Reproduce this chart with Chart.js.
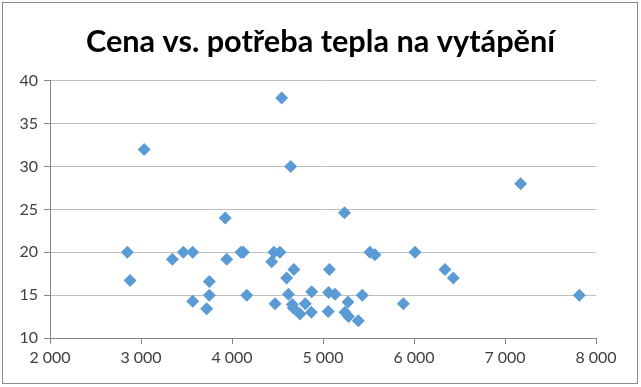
<!DOCTYPE html>
<html lang="cs">
<head>
  <meta charset="UTF-8" />
  <title>Cena vs. potřeba tepla na vytápění</title>
  <script src="https://cdn.jsdelivr.net/npm/chart.js"></script>
  <style>
    html, body { margin: 0; padding: 0; background: #fff; }
    .wrap { width: 641px; height: 387px; position: relative; }
  </style>
</head>
<body>
  <div class="wrap"><canvas id="chart" width="641" height="387"></canvas></div>

  <script>
    // potřeba tepla (x) a cena (y)
    const heatDemand = [
      2850, 2880, 3035, 3345, 3465, 3568, 3568, 3722, 3751, 3751,
      3925, 3942, 4099, 4125, 4162, 4436, 4461, 4473, 4527, 4546,
      4600, 4620, 4645, 4663, 4674, 4680, 4747, 4805, 4872, 4876,
      5058, 5062, 5070, 5132, 5236, 5242, 5275, 5280, 5388, 5432,
      5516, 5571, 5883, 6011, 6341, 6432, 7172, 7817
    ];
    const price = [
      20, 16.7, 32, 19.2, 20, 20, 14.3, 13.4, 15, 16.6,
      24, 19.2, 20, 20, 15, 18.9, 20, 14, 20, 38,
      17, 15.1, 30, 13.9, 13.5, 18, 12.8, 14, 13, 15.4,
      13.1, 15.3, 18, 15.1, 24.6, 13, 14.2, 12.5, 12, 15,
      20, 19.7, 14, 20, 18, 17, 28, 15
    ];
    const xTicks = [2000, 3000, 4000, 5000, 6000, 7000, 8000];
    const yTicks = [10, 15, 20, 25, 30, 35, 40];

    const points = heatDemand.map((x, i) => ({ x: x, y: price[i] }));

    const frame = {
      id: 'frame',
      afterDraw(chart) {
        const ctx = chart.ctx;
        ctx.save();
        ctx.strokeStyle = '#8c8c8c';
        ctx.lineWidth = 1;
        ctx.strokeRect(2.5, 2.5, 635, 381);
        ctx.restore();
      }
    };

    const fmt = v => String(v).replace(/\B(?=(\d{3})+(?!\d))/g, ' ');

    new Chart(document.getElementById('chart').getContext('2d'), {
      type: 'scatter',
      data: {
        datasets: [{
          label: 'Cena',
          data: points,
          pointStyle: 'rectRot',
          pointRadius: 6.5,
          pointHoverRadius: 6.5,
          backgroundColor: '#5b9bd5',
          borderColor: '#5b9bd5',
          borderWidth: 0
        }]
      },
      options: {
        responsive: false,
        animation: false,
        layout: { padding: 0 },
        plugins: {
          legend: { display: false },
          tooltip: { enabled: false },
          title: {
            display: true,
            text: 'Cena vs. potřeba tepla na vytápění',
            color: '#000',
            font: { family: 'Lato', size: 30.7, weight: 'bold' },
            padding: { top: 24, bottom: 20 }
          }
        },
        scales: {
          x: {
            type: 'linear',
            min: 2000,
            max: 8000,
            afterBuildTicks: s => { s.ticks = xTicks.map(v => ({ value: v })); },
            afterFit: s => { s.height = 49; },
            border: { color: '#868686', width: 1 },
            grid: { drawOnChartArea: false, drawTicks: true, tickLength: 6, tickColor: '#868686' },
            ticks: {
              color: '#404040',
              padding: 4,
              maxRotation: 0,
              font: { family: 'Lato', size: 16 },
              callback: v => fmt(v)
            }
          },
          y: {
            type: 'linear',
            min: 10,
            max: 40,
            afterBuildTicks: s => { s.ticks = yTicks.map(v => ({ value: v })); },
            afterFit: s => { s.width = 50; },
            border: { color: '#868686', width: 1 },
            grid: { color: '#bfbfbf', lineWidth: 1, drawTicks: true, tickLength: 6, tickColor: '#868686' },
            ticks: {
              color: '#404040',
              padding: 6,
              font: { family: 'Lato', size: 16 }
            }
          },
          // prázdný pravý okraj, aby nadpis zůstal uprostřed celého grafu
          yRight: {
            type: 'linear',
            position: 'right',
            min: 10,
            max: 40,
            afterFit: s => { s.width = 45; },
            border: { display: false },
            grid: { display: false },
            ticks: { display: false }
          }
        }
      },
      plugins: [frame]
    });
  </script>
</body>
</html>
